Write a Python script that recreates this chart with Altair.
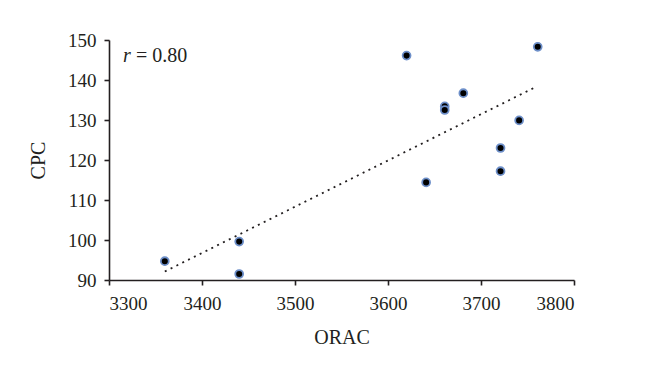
import altair as alt
import pandas as pd

orac = [3360, 3440, 3440, 3620, 3641, 3661, 3661, 3681, 3721, 3721, 3741, 3761]
cpc = [94.7, 99.6, 91.5, 146.1, 114.4, 133.4, 132.5, 136.7, 123.0, 117.2, 129.9, 148.3]
x_ticks = [3300, 3400, 3500, 3600, 3700, 3800]
y_ticks = [90, 100, 110, 120, 130, 140, 150]

df = pd.DataFrame({"ORAC": orac, "CPC": cpc})

FONT = "Liberation Serif, Times New Roman, serif"
INK = "#231f20"

xs = alt.Scale(domain=[3300, 3800], nice=False, zero=False)
ys = alt.Scale(domain=[90, 150], nice=False, zero=False)

X = alt.X("ORAC:Q", scale=xs, title="ORAC",
          axis=alt.Axis(values=x_ticks, format="d", labelPadding=9, titlePadding=14))
Y = alt.Y("CPC:Q", scale=ys, title="CPC",
          axis=alt.Axis(values=y_ticks, format="d", labelPadding=8, titlePadding=19))

base = alt.Chart(df)

trend = base.transform_regression("ORAC", "CPC", extent=[3360, 3760]).mark_line(
    color=INK, strokeWidth=1.8, strokeDash=[2, 4.5]
).encode(x=X, y=Y)

points = base.mark_circle(size=62, color="black", opacity=1, stroke="#6d8fc9",
                          strokeWidth=1.8).encode(x=X, y=Y)

ann_r = alt.Chart(pd.DataFrame({"ORAC": [3315], "CPC": [146], "t": ["r"]})).mark_text(
    font=FONT, fontSize=20, fontStyle="italic", align="left", baseline="middle",
    color=INK).encode(x=X, y=Y, text="t:N")
ann_v = alt.Chart(pd.DataFrame({"ORAC": [3329], "CPC": [146], "t": ["= 0.80"]})).mark_text(
    font=FONT, fontSize=20, align="left", baseline="middle",
    color=INK).encode(x=X, y=Y, text="t:N")

chart = alt.layer(trend, points, ann_r, ann_v).properties(
    width=465, height=240,
    autosize=alt.AutoSizeParams(type="none"),
    padding={"left": 109, "top": 40, "right": 86, "bottom": 95},
    background="white",
).configure_view(stroke=None).configure_axis(
    grid=False, domainColor=INK, domainWidth=1.6, tickColor=INK, tickWidth=1.6,
    tickSize=5, labelFont=FONT, labelFontSize=19, labelColor=INK, labelOverlap=False,
    titleFont=FONT, titleFontSize=20, titleFontWeight="normal", titleColor=INK,
)

chart.save("out.html", embed_options={"renderer": "svg", "actions": False})
